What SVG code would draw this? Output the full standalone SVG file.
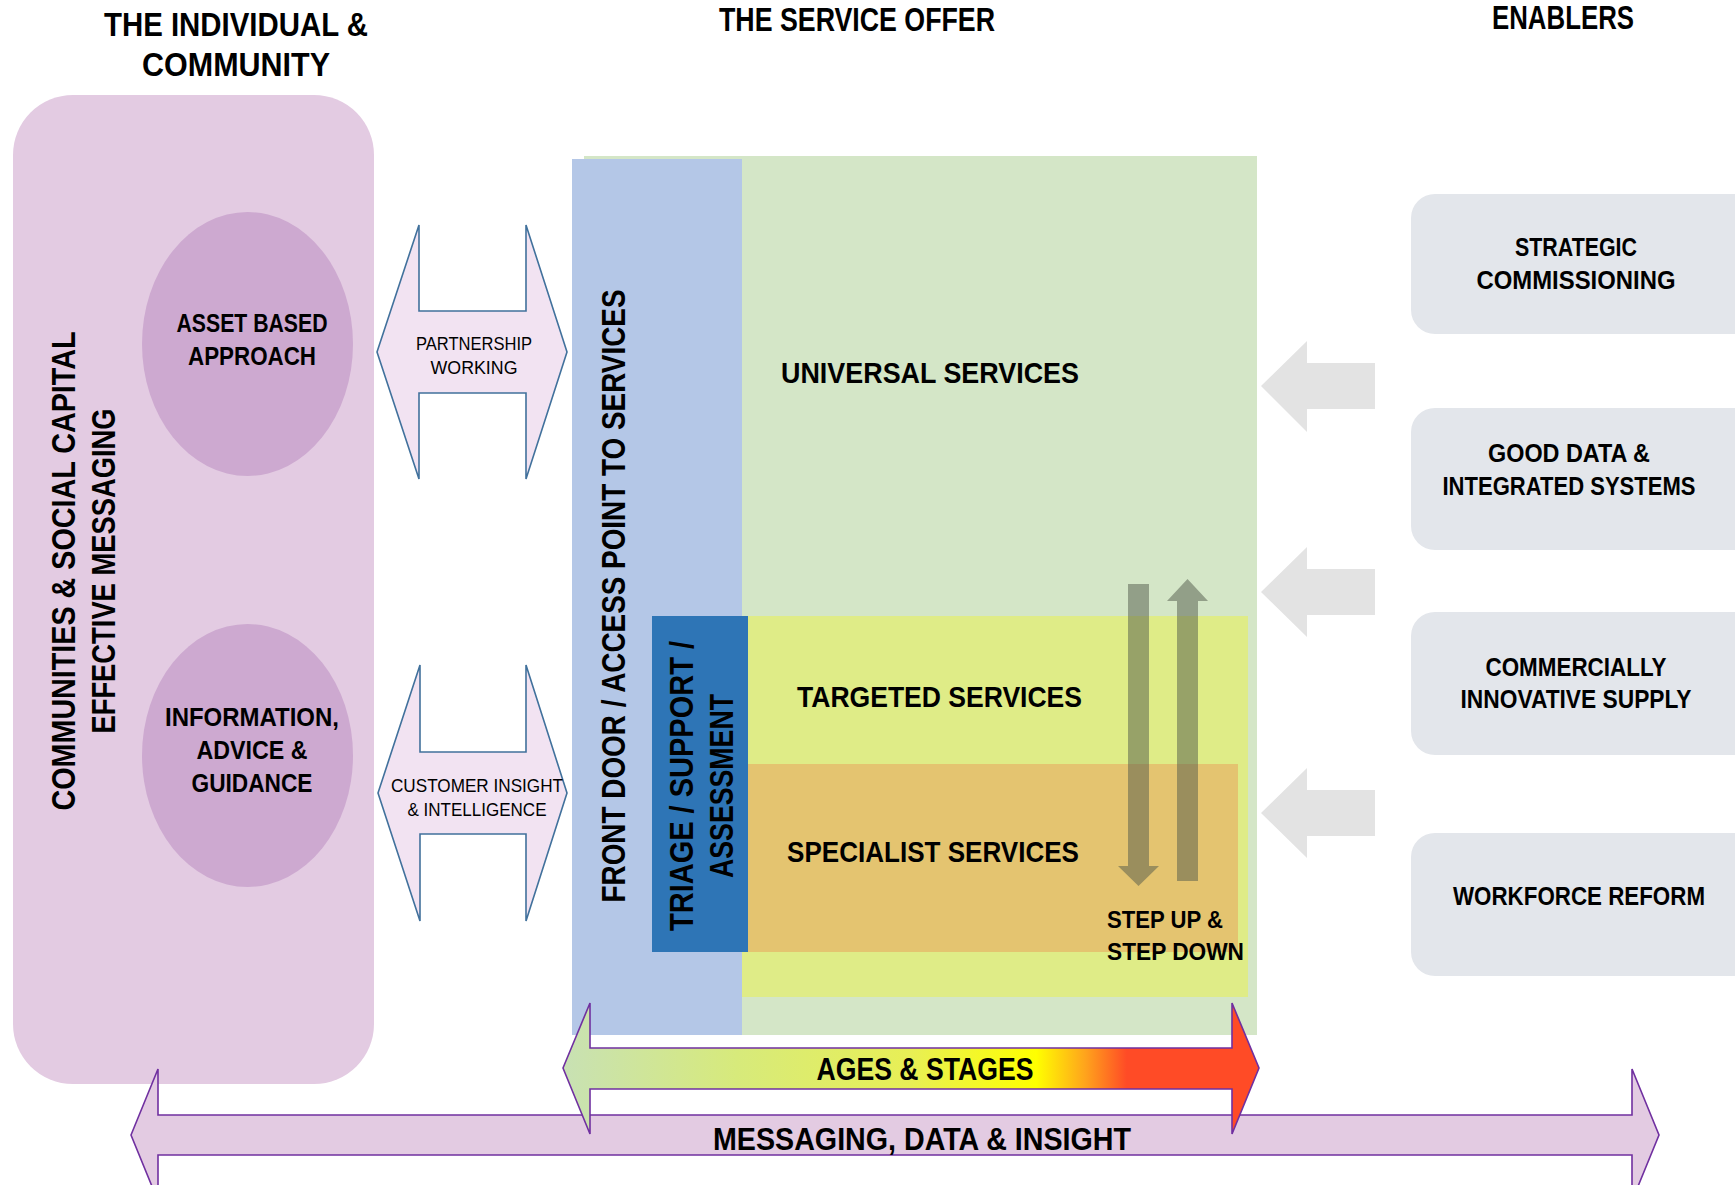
<svg xmlns="http://www.w3.org/2000/svg" width="1735" height="1185" viewBox="0 0 1735 1185">
  <defs>
    <style>
      .t { font-family: "Liberation Sans", Arial, sans-serif; font-weight: bold; fill: #000; text-anchor: middle; }
      .ts { font-family: "Liberation Sans", Arial, sans-serif; font-weight: bold; fill: #000; text-anchor: start; }
      .tr { font-family: "Liberation Sans", Arial, sans-serif; font-weight: normal; fill: #000; text-anchor: middle; }
      .h { font-size: 34px; }
      .big { font-size: 33px; }
      .svc { font-size: 30px; }
      .oval { font-size: 25px; }
      .en { font-size: 25px; }
      .lab { font-size: 18px; }
      .step { font-size: 23px; }
      .panel { fill: #E3CBE2; }
      .oval-shape { fill: #CDA9D0; }
      .link { fill: #F2E3F2; stroke: #41719C; stroke-width: 1.6; stroke-linejoin: miter; }
      .enabler { fill: #E3E6EB; }
      .push { fill: #E3E3E3; }
      .flow { fill: #50584A; opacity: 0.5; }
      .band { stroke: #7030A0; stroke-width: 1.6; }
    </style>
    <linearGradient id="ages" gradientUnits="userSpaceOnUse" x1="563" y1="0" x2="1259" y2="0">
      <stop offset="0" stop-color="#C8E1B4"/>
      <stop offset="0.25" stop-color="#D7EA7B"/>
      <stop offset="0.5" stop-color="#E8EF55"/>
      <stop offset="0.68" stop-color="#FFFF00"/>
      <stop offset="0.75" stop-color="#FFA41C"/>
      <stop offset="0.81" stop-color="#FF4B26"/>
      <stop offset="1" stop-color="#FF4B26"/>
    </linearGradient>
  </defs>

  <rect width="1735" height="1185" fill="#FFFFFF"/>

  <!-- column headings -->
  <g id="headings">
    <text class="t h" x="236" y="36" textLength="264" lengthAdjust="spacingAndGlyphs">THE INDIVIDUAL &amp;</text>
    <text class="t h" x="236" y="76" textLength="188" lengthAdjust="spacingAndGlyphs">COMMUNITY</text>
    <text class="t h" x="857" y="31" textLength="276" lengthAdjust="spacingAndGlyphs">THE SERVICE OFFER</text>
    <text class="t h" x="1563" y="29" textLength="142" lengthAdjust="spacingAndGlyphs">ENABLERS</text>
  </g>

  <!-- individual & community panel -->
  <g id="community">
    <rect class="panel" x="13" y="95" width="361" height="989" rx="60" ry="60"/>
    <text class="t big" transform="translate(75,571) rotate(-90)" textLength="479" lengthAdjust="spacingAndGlyphs">COMMUNITIES &amp; SOCIAL CAPITAL</text>
    <text class="t big" transform="translate(115,571) rotate(-90)" textLength="325" lengthAdjust="spacingAndGlyphs">EFFECTIVE MESSAGING</text>
  </g>

  <g id="asset-based">
    <ellipse class="oval-shape" cx="247.5" cy="344" rx="105.5" ry="132"/>
    <text class="t oval" x="252" y="332" textLength="151" lengthAdjust="spacingAndGlyphs">ASSET BASED</text>
    <text class="t oval" x="252" y="365" textLength="128" lengthAdjust="spacingAndGlyphs">APPROACH</text>
  </g>

  <g id="iag">
    <ellipse class="oval-shape" cx="247.5" cy="755.5" rx="105.5" ry="131.5"/>
    <text class="t oval" x="252" y="726" textLength="174" lengthAdjust="spacingAndGlyphs">INFORMATION,</text>
    <text class="t oval" x="252" y="759" textLength="111" lengthAdjust="spacingAndGlyphs">ADVICE &amp;</text>
    <text class="t oval" x="252" y="792" textLength="121" lengthAdjust="spacingAndGlyphs">GUIDANCE</text>
  </g>

  <!-- two-way links between community and services -->
  <g id="partnership">
    <path class="link" d="M377,352 L419,225 L419,311 L526,311 L526,225 L567,352 L526,479 L526,393 L419,393 L419,479 Z"/>
    <text class="tr lab" x="474" y="350" textLength="116" lengthAdjust="spacingAndGlyphs">PARTNERSHIP</text>
    <text class="tr lab" x="474" y="374" textLength="87" lengthAdjust="spacingAndGlyphs">WORKING</text>
  </g>

  <g id="customer-insight">
    <path class="link" d="M378,793 L420,665 L420,752 L526,752 L526,665 L567,793 L526,921 L526,834 L420,834 L420,921 Z"/>
    <text class="tr lab" x="477" y="792" textLength="172" lengthAdjust="spacingAndGlyphs">CUSTOMER INSIGHT</text>
    <text class="tr lab" x="477" y="816" textLength="139" lengthAdjust="spacingAndGlyphs">&amp; INTELLIGENCE</text>
  </g>

  <!-- service offer -->
  <g id="universal">
    <rect x="584" y="156" width="673" height="879" fill="#D4E6C7"/>
    <text class="ts svc" x="781" y="383" textLength="298" lengthAdjust="spacingAndGlyphs">UNIVERSAL SERVICES</text>
  </g>

  <g id="front-door">
    <rect x="572" y="159" width="170" height="876" fill="#B4C7E7"/>
    <text class="t big" transform="translate(625,596) rotate(-90)" textLength="613" lengthAdjust="spacingAndGlyphs">FRONT DOOR / ACCESS POINT TO SERVICES</text>
  </g>

  <g id="targeted">
    <rect x="742" y="616" width="506" height="381" fill="#DFEC87"/>
    <text class="ts svc" x="797" y="707" textLength="285" lengthAdjust="spacingAndGlyphs">TARGETED SERVICES</text>
  </g>

  <g id="specialist">
    <rect x="748" y="764" width="490" height="188" fill="#E4C470"/>
    <text class="ts svc" x="787" y="862" textLength="292" lengthAdjust="spacingAndGlyphs">SPECIALIST SERVICES</text>
  </g>

  <g id="triage">
    <rect x="652" y="616" width="96" height="336" fill="#2E75B6"/>
    <text class="t big" transform="translate(693,786) rotate(-90)" textLength="290" lengthAdjust="spacingAndGlyphs">TRIAGE / SUPPORT /</text>
    <text class="t big" transform="translate(733,786) rotate(-90)" textLength="184" lengthAdjust="spacingAndGlyphs">ASSESSMENT</text>
  </g>

  <!-- enablers -->
  <g id="strategic-commissioning">
    <rect class="enabler" x="1411" y="194" width="360" height="140" rx="24" ry="24"/>
    <text class="t en" x="1576" y="256" textLength="122" lengthAdjust="spacingAndGlyphs">STRATEGIC</text>
    <text class="t en" x="1576" y="289" textLength="199" lengthAdjust="spacingAndGlyphs">COMMISSIONING</text>
  </g>
  <g id="good-data">
    <rect class="enabler" x="1411" y="408" width="360" height="142" rx="24" ry="24"/>
    <text class="t en" x="1569" y="462" textLength="162" lengthAdjust="spacingAndGlyphs">GOOD DATA &amp;</text>
    <text class="t en" x="1569" y="495" textLength="253" lengthAdjust="spacingAndGlyphs">INTEGRATED SYSTEMS</text>
  </g>
  <g id="commercial-supply">
    <rect class="enabler" x="1411" y="612" width="360" height="143" rx="24" ry="24"/>
    <text class="t en" x="1576" y="676" textLength="181" lengthAdjust="spacingAndGlyphs">COMMERCIALLY</text>
    <text class="t en" x="1576" y="708" textLength="231" lengthAdjust="spacingAndGlyphs">INNOVATIVE SUPPLY</text>
  </g>
  <g id="workforce-reform">
    <rect class="enabler" x="1411" y="833" width="360" height="143" rx="24" ry="24"/>
    <text class="t en" x="1579" y="905" textLength="252" lengthAdjust="spacingAndGlyphs">WORKFORCE REFORM</text>
  </g>

  <!-- arrows: enablers feeding the offer, and step up / step down -->
  <g id="connectors">
    <path class="push" d="M1261,386 L1307,341 L1307,363 L1375,363 L1375,409 L1307,409 L1307,432 Z"/>
    <path class="push" d="M1261,592 L1307,547 L1307,569 L1375,569 L1375,615 L1307,615 L1307,637 Z"/>
    <path class="push" d="M1261,813 L1307,768 L1307,790 L1375,790 L1375,836 L1307,836 L1307,858 Z"/>
    <path class="flow" d="M1128,584 L1149,584 L1149,866 L1159,866 L1138.5,886 L1118,866 L1128,866 Z"/>
    <path class="flow" d="M1177,881 L1198,881 L1198,601 L1208,601 L1187.5,579 L1167,601 L1177,601 Z"/>
  </g>

  <g id="step-label">
    <text class="ts step" x="1107" y="928" textLength="116" lengthAdjust="spacingAndGlyphs">STEP UP &amp;</text>
    <text class="ts step" x="1107" y="960" textLength="137" lengthAdjust="spacingAndGlyphs">STEP DOWN</text>
  </g>

  <!-- cross-cutting bands -->
  <g id="messaging">
    <path class="band" fill="#E3CBE2" d="M131,1135 L158,1069 L158,1115 L1632,1115 L1632,1069 L1659,1135 L1632,1201 L1632,1155 L158,1155 L158,1201 Z"/>
    <text class="t" style="font-size:31px" x="922" y="1150" textLength="418" lengthAdjust="spacingAndGlyphs">MESSAGING, DATA &amp; INSIGHT</text>
  </g>

  <g id="ages-stages">
    <path class="band" fill="url(#ages)" d="M563,1068 L590,1003 L590,1048 L1232,1048 L1232,1003 L1259,1068 L1232,1134 L1232,1089 L590,1089 L590,1134 Z"/>
    <text class="t" style="font-size:32px" x="925" y="1080" textLength="217" lengthAdjust="spacingAndGlyphs">AGES &amp; STAGES</text>
  </g>
</svg>
